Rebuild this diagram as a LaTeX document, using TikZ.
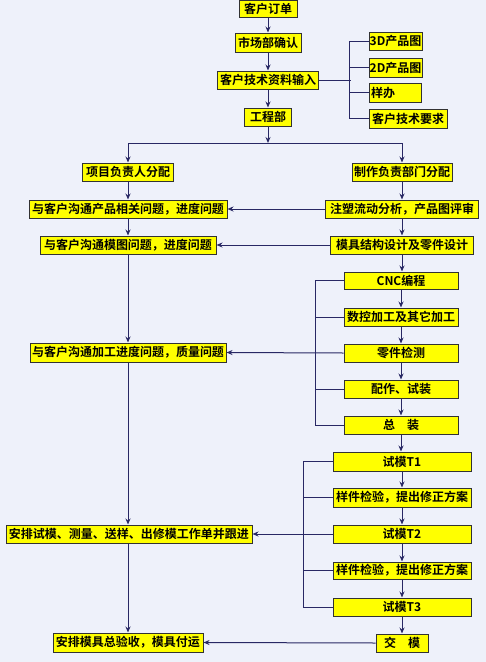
\documentclass[tikz,border=0pt]{standalone}
\usepackage{fontspec}
\newfontfamily\cjk{Noto Sans CJK SC}[BoldFont={Noto Sans CJK SC Bold}]
\usetikzlibrary{arrows.meta}
\definecolor{bgc}{RGB}{238,241,250}
\definecolor{linec}{RGB}{40,40,100}
\definecolor{boxc}{RGB}{255,255,0}
\definecolor{bordc}{RGB}{50,50,50}
\tikzset{
  box/.style={draw=bordc, fill=boxc, line width=1pt, inner sep=0pt, anchor=center,
    font=\cjk\bfseries\fontsize{12}{12}\selectfont},
  conn/.style={draw=linec, line width=1pt},
  arr/.style={conn, -{Stealth[length=6pt,width=5pt]}}
}
\begin{document}
\begin{tikzpicture}[x=1pt,y=-1pt]
\fill[bgc] (0,0) rectangle (486,662);
\useasboundingbox (0,0) rectangle (486,662);
% main spine
\node[box, minimum width=58, minimum height=17] (n1) at (268,8.5) {客户订单};
\node[box, minimum width=66, minimum height=19] (n2) at (268,42.5) {市场部确认};
\node[box, minimum width=101, minimum height=18] (n3) at (268,80) {客户技术资料输入};
\node[box, minimum width=47, minimum height=18] (n4) at (268,117) {工程部};
% right info boxes
\node[box, minimum width=53, minimum height=18] (r1) at (395.5,41) {3D产品图};
\node[box, minimum width=53, minimum height=19] (r2) at (395.5,67.5) {2D产品图};
\node[box, minimum width=52, minimum height=19, text width=48, align=left] (r3) at (395,92.5) {样办};
\node[box, minimum width=78, minimum height=19] (r4) at (408,118.5) {客户技术要求};
% left column
\node[box, minimum width=91, minimum height=18] (a1) at (128,172) {项目负责人分配};
\node[box, minimum width=198, minimum height=18] (a2) at (128,209) {与客户沟通产品相关问题，进度问题};
\node[box, minimum width=176, minimum height=18] (a3) at (128,245) {与客户沟通模图问题，进度问题};
\node[box, minimum width=196, minimum height=19] (a4) at (128,352.5) {与客户沟通加工进度问题，质量问题};
\node[box, minimum width=246, minimum height=18] (a5) at (129,534) {安排试模、测量、送样、出修模工作单并跟进};
\node[box, minimum width=150, minimum height=19] (a6) at (128,642.5) {安排模具总验收，模具付运};
% right column
\node[box, minimum width=100, minimum height=18] (b1) at (402,172) {制作负责部门分配};
\node[box, minimum width=153, minimum height=18] (b2) at (402,209) {注塑流动分析，产品图评审};
\node[box, minimum width=143, minimum height=18] (b3) at (402,245) {模具结构设计及零件设计};
\node[box, minimum width=114, minimum height=17] (b4) at (401,280.5) {CNC编程};
\node[box, minimum width=114, minimum height=18] (b5) at (401,317) {数控加工及其它加工};
\node[box, minimum width=114, minimum height=18] (b6) at (401,353) {零件检测};
\node[box, minimum width=114, minimum height=18] (b7) at (401,389) {配作、试装};
\node[box, minimum width=114, minimum height=18] (b8) at (401,425) {总\hspace{1em}装};
\node[box, minimum width=138, minimum height=19] (c1) at (402,461.5) {试模T1};
\node[box, minimum width=138, minimum height=19] (c2) at (402,497.5) {样件检验，提出修正方案};
\node[box, minimum width=138, minimum height=18] (c3) at (402,534) {试模T2};
\node[box, minimum width=138, minimum height=17] (c4) at (402,570.5) {样件检验，提出修正方案};
\node[box, minimum width=138, minimum height=18] (c5) at (402,607) {试模T3};
\node[box, minimum width=52, minimum height=18] (c6) at (402,643) {交\hspace{1em}模};
% coordinates
\coordinate (j) at (268,143);
% main spine arrows
\draw[arr] (n1) -- (n2);
\draw[arr] (n2) -- (n3);
\draw[arr] (n3) -- (n4);
\draw[arr] (n4) -- (j);
\draw[conn] (j -| a1) -- (j -| b1);
\draw[arr] (j -| a1) -- (a1.north);
\draw[arr] (j -| b1) -- (b1.north);
% info bracket
\draw[conn] (n3.east) -- ++(32,0);
\draw[conn] (r1.west) -- ++(-19,0) |- (r4.west);
\draw[conn] (r2.west) -- ++(-19,0);
\draw[conn] (r3.west) -- ++(-19,0);
% left spine
\draw[arr] (a1) -- (a2);
\draw[arr] (a2) -- (a3);
\draw[arr] (a3) -- (a4);
\draw[arr] (a4.south) -- (a4.south |- a5.north);
\draw[arr] (a5.south -| a4) -- (a4 |- a6.north);
% right spine
\draw[arr] (b1) -- (b2);
\draw[arr] (b2) -- (b3);
\draw[arr] (b3.south) -- (b3.south |- b4.north);
\draw[arr] (b4) -- (b5);
\draw[arr] (b5) -- (b6);
\draw[arr] (b6) -- (b7);
\draw[arr] (b7) -- (b8);
\draw[arr] (b8.south) -- (b8.south |- c1.north);
\draw[arr] (c1) -- (c2);
\draw[arr] (c2) -- (c3);
\draw[arr] (c3) -- (c4);
\draw[arr] (c4) -- (c5);
\draw[arr] (c5) -- (c6);
% cross arrows
\draw[arr] (b2.west) -- (a2.east);
\draw[arr] (b3.west) -- (a3.east);
\draw[arr] (b6.west) -- (a4.east);
\draw[arr] (c3.west) -- (a5.east);
\draw[arr] (c6.west) -- (a6.east);
% brackets
\draw[conn] (b4.west) -- ++(-28,0) |- (b8.west);
\draw[conn] (b5.west) -- ++(-28,0);
\draw[conn] (b7.west) -- ++(-28,0);
\draw[conn] (c1.west) -- ++(-29,0) |- (c5.west);
\draw[conn] (c2.west) -- ++(-29,0);
\draw[conn] (c4.west) -- ++(-29,0);
\end{tikzpicture}
\end{document}
